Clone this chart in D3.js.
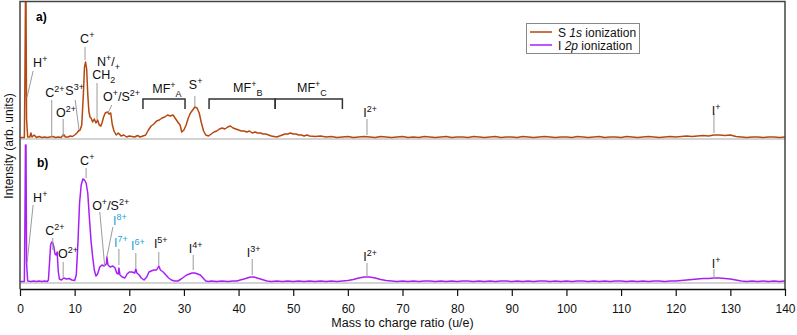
<html>

<head>
	<meta charset="UTF-8">
	<title>Mass spectra</title>
	<script src="https://cdn.jsdelivr.net/npm/d3@7"></script>
	<style>
		body {
			padding: 0;
			margin: 0;
			background: #fff;
		}
		text {
			font-family: "Liberation Sans", Arial, sans-serif;
		}
	</style>
</head>

<body>
	<script>
		var w = 797,
			h = 335;

		// [m/z, intensity], S 1s ionization (panel a)
		var specA = [[0,1.5],[0.8,1.5],[0.9,60],[1.0,140],[1.1,140],[1.2,20],[1.4,2],[1.8,2],[2.0,6],[2.2,2],[2.6,4],[3.0,1.5],[3.5,2.5],[4,1.5],[4.5,2],[5,1.5],[5.5,2],[6,2.5],[6.5,1.5],[7,2],[7.5,1.5],[8,4.5],[8.3,2],[8.8,2],[9.2,3],[9.6,2.5],[10,4],[10.4,6],[10.7,8],[11,9],[11.3,14],[11.6,45],[11.8,72],[12,77],[12.2,70],[12.4,45],[12.6,28],[12.8,22],[13,21],[13.3,17],[13.6,20],[13.9,16],[14.2,19],[14.5,14],[14.8,13],[15,16],[15.3,22],[15.6,26],[16,27],[16.3,25],[16.6,26],[16.9,14],[17.2,8],[17.6,4],[18,6],[18.5,3],[19,4],[19.5,2],[20,3],[20.5,2.5],[21,2],[21.5,3.5],[22,2],[22.5,3],[23,4],[23.5,9],[24,13],[24.5,15],[25,18],[25.5,19],[26,21],[26.5,22],[27,24],[27.5,23],[28,24],[28.5,20],[29,16],[29.3,14],[29.6,7],[30,9],[30.4,14],[30.8,21],[31.2,26],[31.6,29],[32,32],[32.4,31],[32.8,26],[33.2,16],[33.6,8],[34,4],[34.5,3],[35,5],[35.5,7],[36,8],[36.5,10],[37,11],[37.5,10],[38,12],[38.5,13],[39,11],[39.5,10],[40,9],[40.5,8],[41,8],[41.5,7],[42,8],[42.5,6],[43,7],[43.5,6],[44,6],[44.5,5],[45,5],[45.5,4],[46,3],[46.5,2.5],[47,2],[47.5,3],[48,4],[48.5,5],[49,5],[49.5,6],[50,5],[50.5,5],[51,4],[51.5,4],[52,3],[52.5,4],[53,3],[54,2.5],[55,3],[56,2],[57,2.5],[58,1.5],[59,2],[60,2.5],[61,1.5],[62,2],[63,2.5],[64,2],[65,1.5],[66,2.5],[67,2],[68,1.5],[69,2],[70,2.5],[71,1.5],[72,2],[73,1.5],[74,2.5],[75,2],[76,1.5],[77,2],[78,2.5],[79,1.5],[80,2],[81,2],[82,1.5],[83,2.5],[84,2],[85,1.5],[86,2],[87,2.5],[88,1.5],[89,2],[90,2],[91,1.5],[92,2.5],[93,2],[94,1.5],[95,2],[96,2.5],[97,2],[98,1.5],[99,2],[100,2],[101,1.5],[102,2.5],[103,2],[104,1.5],[105,2],[106,2.5],[107,1.5],[108,2],[109,2],[110,1.5],[111,2.5],[112,2],[113,1.5],[114,2],[115,2.5],[116,2],[117,1.5],[118,2],[119,2.5],[120,2],[121,2.5],[122,3],[123,2.5],[124,3],[125,3.5],[126,3],[127,4],[128,4],[129,3.5],[130,4],[131,2.5],[132,2],[133,1.5],[134,2],[135,2],[136,1.5],[137,2],[138,2],[139,1.5],[140,2]];

		// [m/z, intensity], I 2p ionization (panel b)
		var specB = [[0,1.5],[0.8,1.5],[0.9,60],[1.0,138],[1.1,138],[1.2,20],[1.4,2],[2,1.5],[2.5,2],[3,1.5],[3.5,2],[4,1.5],[4.5,2],[5,1.5],[5.2,3],[5.4,20],[5.6,38],[5.8,41],[6,40],[6.2,36],[6.4,29],[6.6,28],[6.8,31],[7,12],[7.2,4],[7.6,3],[8,5],[8.5,4],[9,4.5],[9.5,3],[10,2.5],[10.3,8],[10.6,40],[10.9,80],[11.2,98],[11.5,104],[11.8,103],[12.1,100],[12.4,90],[12.7,65],[13,42],[13.3,26],[13.6,13],[13.9,7],[14.2,9],[14.6,16],[15,18],[15.4,17],[15.8,19],[15.9,26],[16.1,18],[16.5,16],[17,17],[17.4,15],[17.7,10],[18.0,9],[18.1,15],[18.3,8],[18.7,6],[19.2,5],[19.6,9],[20,11],[20.5,11],[21,10],[21.2,14],[21.4,10],[21.8,8],[22.2,5],[22.7,3],[23.2,6],[23.6,11],[24,12],[24.5,13],[25,13],[25.4,17],[25.7,13],[26.2,11],[26.7,8],[27.2,5],[27.7,3],[28.3,2],[28.9,2],[29.5,4],[30,6],[30.5,8],[31,9],[31.5,10],[32,10],[32.5,9],[33,8],[33.5,5],[34,2],[34.5,1.5],[35,2],[36,1.5],[37,2],[38,1.5],[39,2],[39.7,2],[40.3,3],[41,4],[41.6,5],[42.2,6],[42.8,6],[43.4,5],[44,4],[44.6,3],[45.2,2],[46,1.5],[47,2],[48,1.5],[49,2],[50,1.5],[51,2],[52,1.5],[53,2],[54,1.5],[55,2],[56,1.5],[57,2],[58,1.5],[59,2],[60,2.5],[61,3.5],[62,5],[63,6],[64,6],[65,5],[66,3.5],[67,2.5],[68,2],[69,1.5],[70,2],[71,1.5],[72,2],[73,1.5],[74,2],[75,2],[76,1.5],[77,2],[78,1.5],[79,2],[80,1.5],[81,2],[82,2],[83,1.5],[84,2],[85,1.5],[86,2],[87,1.5],[88,2],[89,2],[90,1.5],[91,2],[92,1.5],[93,2],[94,1.5],[95,2],[96,2],[97,1.5],[98,2],[99,1.5],[100,2],[101,1.5],[102,2],[103,2],[104,1.5],[105,2],[106,1.5],[107,2],[108,1.5],[109,2],[110,2],[111,1.5],[112,2],[113,1.5],[114,2],[115,1.5],[116,2],[117,2],[118,1.5],[119,2],[120,2],[121,2.5],[122,3],[123,3.5],[124,4],[125,4.5],[126,4.5],[127,5],[128,5],[129,4.5],[130,4],[131,3],[132,2],[133,1.5],[134,2],[135,1.5],[136,2],[137,1.5],[138,2],[139,1.5],[140,2]];

		var xTicks = [0, 10, 20, 30, 40, 50, 60, 70, 80, 90, 100, 110, 120, 130, 140];

		// peak labels: text start (m/z, intensity) and leader line [mz1, v1, mz2, v2]
		var labelsA = [
			{t: "H^{+}", mz: 2.4, v: 72, line: [2.4, 68, 1.3, 42]},
			{t: "C^{2+}", mz: 4.6, v: 42, line: [5.8, 39, 5.8, 2]},
			{t: "O^{2+}", mz: 6.6, v: 22, line: [7.9, 20, 7.9, 2]},
			{t: "S^{3+}", mz: 8.3, v: 44, line: [10.1, 39, 10.8, 9]},
			{t: "C^{+}", mz: 11, v: 96, line: [11.9, 92, 11.9, 79]},
			{t: "N^{+}/_{+}", mz: 14.1, v: 73},
			{t: "CH_{2}", mz: 13.2, v: 60, line: [14.1, 56, 14.1, 19]},
			{t: "O^{+}/S^{2+}", mz: 15.2, v: 38, line: [16.8, 34, 16.1, 26]},
			{t: "MF^{+}_{A}", mz: 24.2, v: 46},
			{t: "S^{+}", mz: 30.9, v: 50, line: [32, 43, 32, 32]},
			{t: "MF^{+}_{B}", mz: 39, v: 47},
			{t: "MF^{+}_{C}", mz: 50.7, v: 47},
			{t: "I^{2+}", mz: 62.8, v: 22, line: [63.5, 20, 63.5, 4]},
			{t: "I^{+}", mz: 126.6, v: 24, line: [127, 26, 127, 6]}
		];
		var bracketsA = [[22.5, 30.2], [34.6, 46.7], [46.7, 59]];

		var labelsB = [
			{t: "H^{+}", mz: 2.4, v: 81, line: [2.4, 78, 1.3, 20]},
			{t: "C^{2+}", mz: 4.6, v: 48, line: [6.0, 45, 6.0, 33]},
			{t: "O^{2+}", mz: 6.95, v: 25, line: [7.9, 21, 7.9, 6]},
			{t: "C^{+}", mz: 11, v: 118, line: [12.1, 115, 12.1, 105]},
			{t: "O^{+}/S^{2+}", mz: 13.2, v: 73, line: [14.6, 71, 15.5, 17]},
			{t: "I^{8+}", mz: 17, v: 58, blue: true, line: [17, 56, 15.9, 26]},
			{t: "I^{7+}", mz: 17.2, v: 36, blue: true, line: [18.1, 34, 18.1, 18]},
			{t: "I^{6+}", mz: 20.3, v: 33, blue: true, line: [21.2, 30, 21.2, 15]},
			{t: "I^{5+}", mz: 24.5, v: 35, line: [25.4, 31, 25.4, 18]},
			{t: "I^{4+}", mz: 30.9, v: 30, line: [31.7, 28, 31.7, 13]},
			{t: "I^{3+}", mz: 41.5, v: 26, line: [42.5, 24, 42.5, 8]},
			{t: "I^{2+}", mz: 62.8, v: 22, line: [63.5, 20, 63.5, 6]},
			{t: "I^{+}", mz: 126.6, v: 15, line: [127, 14, 127, 4]}
		];

		var brown = "#b5480f",
			purple = "#a81ff5",
			blue = "#2a9fd6";

		var x = d3.scaleLinear().domain([0, 140]).range([20, 785]);
		var yA = d3.scaleLinear().domain([0, 137]).range([139, 2]);
		var yB = d3.scaleLinear().domain([0, 136]).range([283, 147]);

		var svg = d3.select("body").append("svg")
			.attr("width", w)
			.attr("height", h);

		svg.append("clipPath").attr("id", "plot")
			.append("rect").attr("x", 20).attr("y", 1.5).attr("width", 765).attr("height", 287);

		// zero lines
		[yA, yB].forEach(function (y) {
			svg.append("line")
				.attr("x1", x(0)).attr("x2", x(140))
				.attr("y1", y(0)).attr("y2", y(0))
				.attr("stroke", "#c4c4c4").attr("stroke-width", 1.5);
		});

		function drawSpec(data, y, color) {
			var line = d3.line()
				.x(function (d) { return x(d[0]); })
				.y(function (d) { return y(d[1]); });
			svg.append("path")
				.datum(data)
				.attr("clip-path", "url(#plot)")
				.attr("fill", "none")
				.attr("stroke", color)
				.attr("stroke-width", 1.5)
				.attr("stroke-linejoin", "round")
				.attr("d", line);
		}
		drawSpec(specA, yA, brown);
		drawSpec(specB, yB, purple);

		// text with ^{sup} and _{sub} parts
		function richText(g, px, py, str, color, size) {
			var t = g.append("text").attr("x", px).attr("y", py)
				.attr("fill", color).style("font-size", size + "px");
			var re = /([\^_])\{([^}]*)\}|([^\^_]+)/g, m, shift = 0;
			while ((m = re.exec(str)) !== null) {
				var target = 0, txt, fs = size;
				if (m[1] === "^") { target = -5.5; txt = m[2]; fs = size * 0.72; }
				else if (m[1] === "_") { target = 3.5; txt = m[2]; fs = size * 0.72; }
				else { txt = m[3]; }
				t.append("tspan").attr("dy", target - shift)
					.style("font-size", fs + "px").text(txt);
				shift = target;
			}
			return t;
		}

		function drawLabels(labels, y) {
			labels.forEach(function (d) {
				if (d.line) {
					svg.append("line")
						.attr("x1", x(d.line[0])).attr("y1", y(d.line[1]))
						.attr("x2", x(d.line[2])).attr("y2", y(d.line[3]))
						.attr("stroke", "#9a9a9a").attr("stroke-width", 1);
				}
				richText(svg, x(d.mz), y(d.v), d.t, d.blue ? blue : "#111", 12.5);
			});
		}
		drawLabels(labelsA, yA);
		drawLabels(labelsB, yB);

		bracketsA.forEach(function (b) {
			svg.append("path")
				.attr("fill", "none").attr("stroke", "#333").attr("stroke-width", 1.5)
				.attr("d", "M" + x(b[0]) + "," + yA(30) + "V" + yA(40) + "H" + x(b[1]) + "V" + yA(30));
		});

		svg.append("text").attr("x", 36).attr("y", 21)
			.style("font-size", "12px").style("font-weight", "bold").text("a)");
		svg.append("text").attr("x", 37).attr("y", 167)
			.style("font-size", "12px").style("font-weight", "bold").text("b)");

		// frame
		svg.append("path")
			.attr("fill", "none").attr("stroke", "#444").attr("stroke-width", 1.5)
			.attr("d", "M" + x(0) + ",289V1.5H" + x(140) + "V289");

		var xAxis = d3.axisBottom(x).tickValues(xTicks)
			.tickSize(7).tickSizeOuter(0).tickPadding(8);
		var ax = svg.append("g").attr("transform", "translate(0,289)").call(xAxis);
		ax.select(".domain").attr("stroke", "#111").attr("stroke-width", 1.5);
		ax.selectAll(".tick line").attr("stroke", "#111").attr("stroke-width", 1.2);
		ax.selectAll(".tick text").attr("fill", "#111")
			.style("font-size", "12px").style("font-family", "'Liberation Sans', Arial, sans-serif");

		svg.append("text").attr("x", (x(0) + x(140)) / 2).attr("y", 327)
			.attr("text-anchor", "middle").style("font-size", "12.5px").attr("fill", "#111")
			.text("Mass to charge ratio (u/e)");

		svg.append("text")
			.attr("transform", "translate(13,146) rotate(-90)")
			.attr("text-anchor", "middle").style("font-size", "12px").attr("fill", "#111")
			.text("Intensity (arb. units)");

		// legend
		var lg = svg.append("g");
		lg.append("rect").attr("x", 526.5).attr("y", 23.5).attr("width", 113).attr("height", 30)
			.attr("fill", "#fff").attr("stroke", "#888");
		[[brown, "S ", "1s", " ionization"], [purple, "I ", "2p", " ionization"]].forEach(function (d, i) {
			var yy = 32 + i * 13;
			lg.append("line").attr("x1", 530).attr("x2", 552).attr("y1", yy).attr("y2", yy)
				.attr("stroke", d[0]).attr("stroke-width", 1.5);
			var t = lg.append("text").attr("x", 558).attr("y", yy + 4.5)
				.style("font-size", "12px").attr("fill", "#111");
			t.append("tspan").text(d[1]);
			t.append("tspan").style("font-style", "italic").text(d[2]);
			t.append("tspan").text(d[3]);
		});
	</script>
</body>

</html>
